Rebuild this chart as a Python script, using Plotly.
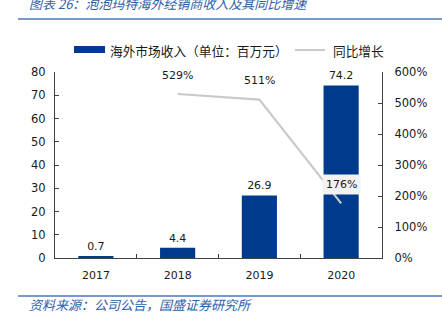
import plotly.graph_objects as go

years = ["2017", "2018", "2019", "2020"]
revenue = [0.7, 4.4, 26.9, 74.2]
growth_years = ["2018", "2019", "2020"]
growth = [529, 511, 176]
revenue_labels = ["0.7", "4.4", "26.9", "74.2"]
growth_labels = ["529%", "511%", "176%"]
left_ticks = [0, 10, 20, 30, 40, 50, 60, 70, 80]
right_ticks = [0, 100, 200, 300, 400, 500, 600]
right_tick_labels = ["0%", "100%", "200%", "300%", "400%", "500%", "600%"]

BLUE = "#003a8c"
GRAY = "#c9c9c9"
TXT = "#1a1a1a"
NUMFONT = "DejaVu Sans"
CJK = "Noto Sans CJK SC"

W, H = 442, 334
L, R, T, B = 55, 60, 72, 76
PW, PH = W - L - R, H - T - B


def px(x):
    return (x - L) / PW


def py(y):
    return (H - y - B) / PH


fig = go.Figure()
fig.add_trace(go.Bar(
    x=years, y=revenue, marker=dict(color=BLUE, line=dict(width=0)),
    width=0.43, text=revenue_labels, textposition="outside", cliponaxis=False,
    textfont=dict(family=NUMFONT, size=11, color=TXT), name="海外市场收入（单位：百万元）",
    showlegend=False,
))
fig.add_trace(go.Scatter(
    x=growth_years, y=growth, yaxis="y2", mode="lines",
    line=dict(color=GRAY, width=2.2), name="同比增长", showlegend=False,
))

for gx, gy, gl in zip(growth_years, growth, growth_labels):
    fig.add_annotation(
        x=years.index(gx), y=gy, xref="x", yref="y2", text=gl, showarrow=False,
        yshift=19, font=dict(family=NUMFONT, size=11, color=TXT),
        bgcolor="#f2f2f2" if gx == "2020" else "rgba(0,0,0,0)",
        borderpad=3,
    )

fig.add_annotation(xref="paper", yref="paper", x=px(27), y=py(3),
                   xanchor="left", yanchor="middle", showarrow=False,
                   text="<i>图表 26：泡泡玛特海外经销商收入及其同比增速</i>",
                   font=dict(family=CJK, size=13, color="#2f5ea8"))
fig.add_annotation(xref="paper", yref="paper", x=px(27), y=py(304),
                   xanchor="left", yanchor="middle", showarrow=False,
                   text="<i>资料来源：公司公告，国盛证券研究所</i>",
                   font=dict(family=CJK, size=13, color="#2f5ea8"))

shapes = [
    dict(type="line", xref="paper", yref="paper", x0=px(18), x1=px(442),
         y0=py(19), y1=py(19), line=dict(color="#4a78b8", width=1.5)),
    dict(type="line", xref="paper", yref="paper", x0=px(18), x1=px(442),
         y0=py(296), y1=py(296), line=dict(color="#4a78b8", width=1.5)),
    # legend
    dict(type="rect", xref="paper", yref="paper", x0=px(74), x1=px(105),
         y0=py(53), y1=py(46), fillcolor=BLUE, line=dict(width=0)),
    dict(type="line", xref="paper", yref="paper", x0=px(295), x1=px(325),
         y0=py(50), y1=py(50), line=dict(color=GRAY, width=2)),
]
fig.update_layout(shapes=shapes)
fig.add_annotation(xref="paper", yref="paper", x=px(108), y=py(50),
                   xanchor="left", yanchor="middle", showarrow=False,
                   text="海外市场收入（单位：百万元）", font=dict(family=CJK, size=12.7, color=TXT))
fig.add_annotation(xref="paper", yref="paper", x=px(331), y=py(50),
                   xanchor="left", yanchor="middle", showarrow=False,
                   text="同比增长", font=dict(family=CJK, size=12.7, color=TXT))

fig.update_layout(
    width=W, height=H,
    margin=dict(l=L, r=R, t=T, b=B),
    paper_bgcolor="white", plot_bgcolor="white",
    showlegend=False,
    xaxis=dict(type="category", range=[-0.5, 3.5], showline=True, linecolor="#404040",
               linewidth=1.3, ticks="inside", tickson="boundaries", ticklen=4,
               tickcolor="#404040", tickangle=0, ticklabelstandoff=7,
               tickfont=dict(family=NUMFONT, size=11, color=TXT), showgrid=False,
               zeroline=False),
    yaxis=dict(range=[0, 80], tickvals=left_ticks, showline=True, linecolor="#404040",
               linewidth=1.3, ticks="inside", ticklen=4, tickcolor="#404040", showgrid=False,
               zeroline=False, ticklabelstandoff=6,
               tickfont=dict(family=NUMFONT, size=11.5, color=TXT)),
    yaxis2=dict(range=[0, 600], tickvals=right_ticks, ticktext=right_tick_labels,
                overlaying="y", side="right", showline=True, linecolor="#404040",
                linewidth=1.3, ticks="inside", ticklen=4, tickcolor="#404040",
                showgrid=False, zeroline=False, ticklabelstandoff=9,
                tickfont=dict(family=NUMFONT, size=11.5, color=TXT)),
)

fig.write_html("out.html")
